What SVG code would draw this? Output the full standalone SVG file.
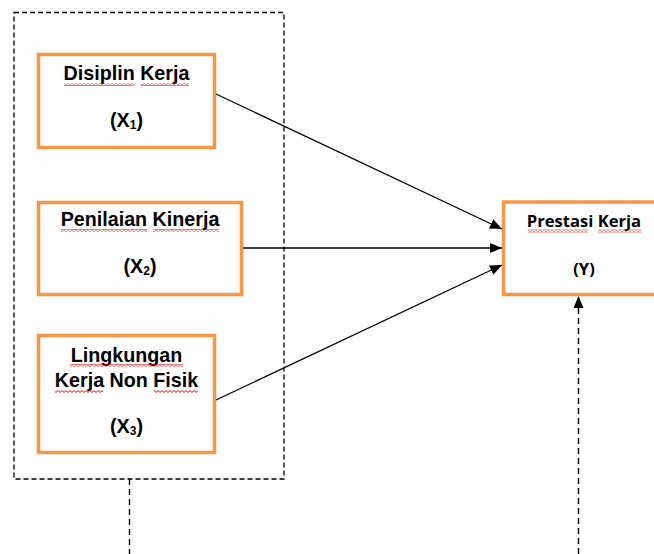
<svg xmlns="http://www.w3.org/2000/svg" width="654" height="554" viewBox="0 0 654 554">
<style>
.box{fill:#fff;stroke:#F79646;stroke-width:3.5}
.t{font-family:"Liberation Sans",Arial,sans-serif;font-weight:bold;font-size:19.7px;fill:#000;text-anchor:middle}
.ty{font-family:"Open Sans",Lato,sans-serif;font-weight:bold;font-size:16.6px;fill:#000;text-anchor:middle}
.sub{font-size:12px}
.c{stroke:#000;stroke-width:1.3;fill:none}
.d{stroke:#000;stroke-width:1.3;fill:none;stroke-dasharray:5 3}
.dv{stroke:#000;stroke-width:1.4;fill:none;stroke-dasharray:6 4}
.w{fill:url(#wavy)}
</style>
<defs>
<pattern id="wavy" width="4" height="3" patternUnits="userSpaceOnUse">
<path d="M0,2.4 L2,0.6 L4,2.4" fill="none" stroke="#FF0000" stroke-width="1"/>
</pattern>
<marker id="ah" markerUnits="userSpaceOnUse" markerWidth="12" markerHeight="10" refX="12" refY="5" orient="auto">
<path d="M0,0 L12,5 L0,10 z" fill="#000"/>
</marker>
</defs>
<g id="group-box">
<rect x="14" y="12.5" width="270" height="466.5" class="d"/>
</g>
<g id="node-x1">
<rect x="38.5" y="54.5" width="176" height="93" class="box"/>
<text x="126.5" y="80" class="t">Disiplin Kerja</text>
<rect x="64" y="83" width="70" height="3" class="w"/>
<rect x="141" y="83" width="48" height="3" class="w"/>
<text x="126.5" y="127" class="t">(X<tspan class="sub" dy="2">1</tspan><tspan dy="-2">)</tspan></text>
</g>
<g id="node-x2">
<rect x="38.5" y="202.5" width="203" height="92" class="box"/>
<text x="140" y="226" class="t">Penilaian Kinerja</text>
<rect x="61" y="229" width="86" height="3" class="w"/>
<rect x="153" y="229" width="66" height="3" class="w"/>
<text x="140" y="273" class="t">(X<tspan class="sub" dy="2">2</tspan><tspan dy="-2">)</tspan></text>
</g>
<g id="node-x3">
<rect x="38.5" y="335.5" width="176" height="117" class="box"/>
<text x="126.5" y="362" class="t">Lingkungan</text>
<rect x="70" y="364" width="113" height="3" class="w"/>
<text x="126.5" y="387" class="t">Kerja Non Fisik</text>
<rect x="55" y="390" width="48" height="3" class="w"/>
<rect x="154" y="390" width="44" height="3" class="w"/>
<text x="126.5" y="433" class="t">(X<tspan class="sub" dy="2">3</tspan><tspan dy="-2">)</tspan></text>
</g>
<g id="node-y">
<rect x="503.5" y="202" width="160" height="92.5" class="box"/>
<text x="584" y="227" class="ty">Prestasi Kerja</text>
<rect x="528" y="229.5" width="60" height="3" class="w"/>
<rect x="598" y="229.5" width="43" height="3" class="w"/>
<text x="584" y="275" class="ty">(Y)</text>
</g>
<g id="connectors">
<line x1="216" y1="94" x2="502" y2="229" class="c" marker-end="url(#ah)"/>
<line x1="243" y1="248" x2="502" y2="248" class="c" marker-end="url(#ah)"/>
<line x1="216" y1="400" x2="502" y2="265" class="c" marker-end="url(#ah)"/>
<line x1="129.5" y1="479" x2="129.5" y2="554" class="dv"/>
<line x1="578.5" y1="554" x2="578.5" y2="296" class="dv" marker-end="url(#ah)"/>
</g>
</svg>
